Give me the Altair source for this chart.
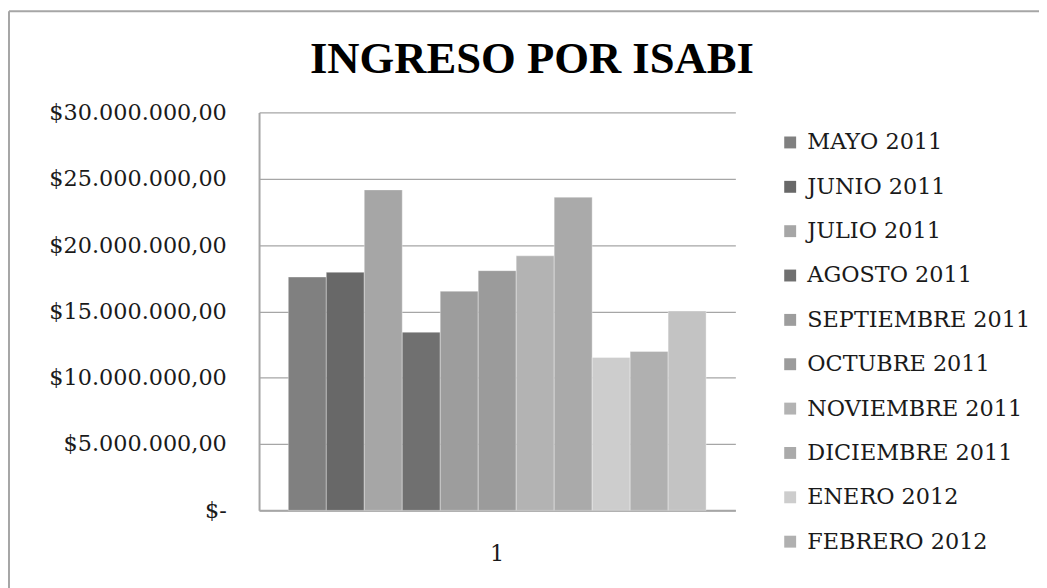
import altair as alt
import pandas as pd

months = ["MAYO 2011", "JUNIO 2011", "JULIO 2011", "AGOSTO 2011", "SEPTIEMBRE 2011",
          "OCTUBRE 2011", "NOVIEMBRE 2011", "DICIEMBRE 2011", "ENERO 2012",
          "FEBRERO 2012", "MARZO 2012"]
ingresos = [17590000, 17950000, 24160000, 13430000, 16520000, 18070000,
            19190000, 23610000, 11530000, 11980000, 15030000]
colores = ["#808080", "#686868", "#a6a6a6", "#707070", "#9d9d9d", "#9b9b9b",
           "#b3b3b3", "#aaaaaa", "#cdcdcd", "#b0b0b0", "#c3c3c3"]
grupo = ["1"] * len(months)
ticks_y = [0, 5000000, 10000000, 15000000, 20000000, 25000000, 30000000]
titulo = ["INGRESO POR ISABI"]

df = pd.DataFrame({"grupo": grupo, "mes": months, "ingreso": ingresos})

FONT = "DejaVu Serif"
GRAY = "#a6a6a6"

label_expr = ("datum.value == 0 ? '$-' : '$' + replace(replace(replace(format(datum.value, ',.2f'), "
              "regexp(',', 'g'), '_'), regexp('[.]', 'g'), ','), regexp('_', 'g'), '.')")

bars = alt.Chart(df).mark_bar(stroke="#ffffff", strokeOpacity=0.35, strokeWidth=1).encode(
    x=alt.X("grupo:N", title=None,
            scale=alt.Scale(paddingInner=0, paddingOuter=0.07),
            axis=alt.Axis(labelAngle=0, ticks=False, labelPadding=33, domain=True,
                          domainColor=GRAY, domainWidth=2, grid=False,
                          labelFont=FONT, labelFontSize=22.5, labelColor="#1a1a1a",
                          labelBaseline="top")),
    xOffset=alt.XOffset("mes:N", sort=months, scale=alt.Scale(paddingInner=0, paddingOuter=0)),
    y=alt.Y("ingreso:Q", title=None,
            scale=alt.Scale(domain=[0, 30000000], nice=False),
            axis=alt.Axis(values=ticks_y, labelExpr=label_expr, grid=True, gridColor=GRAY,
                          gridWidth=1.3, ticks=False, labelPadding=33, domain=True,
                          domainColor=GRAY, domainWidth=2,
                          labelFont=FONT, labelFontSize=22.5, labelColor="#1a1a1a")),
    color=alt.Color("mes:N", sort=months,
                    scale=alt.Scale(domain=months, range=colores),
                    legend=alt.Legend(values=months[:10], title=None, orient="none",
                                      legendX=524, legendY=19, symbolType="square",
                                      symbolSize=144, symbolStrokeWidth=0,
                                      labelFont=FONT, labelFontSize=22.5,
                                      labelColor="#1a1a1a", labelOffset=6,
                                      rowPadding=21.7, padding=0, labelLimit=400)),
)

title_df = pd.DataFrame({"t": titulo})
title = alt.Chart(title_df).mark_text(font="Liberation Serif", fontSize=45, fontWeight="bold",
                                      align="center", baseline="alphabetic",
                                      color="#000000").encode(
    text="t:N", x=alt.value(275), y=alt.value(-39.5))

border_df = pd.DataFrame({"k": [0]})
left_border = alt.Chart(border_df).mark_rule(color=GRAY, strokeWidth=2).encode(
    x=alt.value(-252), y=alt.value(-102), y2=alt.value(480))
top_border = alt.Chart(border_df).mark_rule(color=GRAY, strokeWidth=2).encode(
    x=alt.value(-252), x2=alt.value(790), y=alt.value(-102))

chart = alt.layer(bars, title, left_border, top_border).properties(
    width=480, height=401,
    padding={"left": 253, "top": 103, "right": 306, "bottom": 76},
    autosize=alt.AutoSizeParams(type="none"),
    background="#ffffff",
).configure_view(stroke=None)

chart.save("out.html", embed_options={"renderer": "svg", "actions": False})
